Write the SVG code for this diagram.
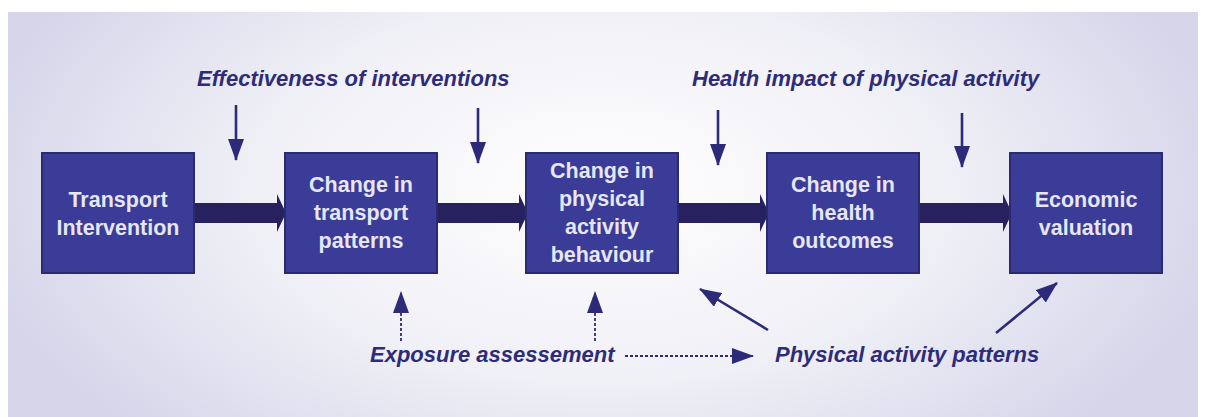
<svg xmlns="http://www.w3.org/2000/svg" width="1206" height="417" viewBox="0 0 1206 417">
  <defs>
    <radialGradient id="bg" cx="600" cy="190" r="640" gradientUnits="userSpaceOnUse" gradientTransform="translate(600 190) scale(1 0.55) translate(-600 -190)">
      <stop offset="0" stop-color="#ffffff"/>
      <stop offset="0.55" stop-color="#efeff6"/>
      <stop offset="1" stop-color="#d6d5ea"/>
    </radialGradient>
    <marker id="head" viewBox="0 0 22 16" refX="21" refY="8" markerWidth="22" markerHeight="16" markerUnits="userSpaceOnUse" orient="auto">
      <path d="M0,0 L22,8 L0,16 z" fill="#2e2a7a"/>
    </marker>
    <style>
      .box { fill: #3a3c98; stroke: #2a2a6e; stroke-width: 2; }
      .boxText { font-family: "Liberation Sans", Arial, sans-serif; font-weight: bold; font-size: 21.5px; fill: #e6e6f4; text-anchor: middle; }
      .label { font-family: "Liberation Sans", Arial, sans-serif; font-weight: bold; font-style: italic; font-size: 22px; fill: #2e2c78; }
      .flow { fill: #28215f; }
      .thin { stroke: #2e2a7a; stroke-width: 2.6; fill: none; marker-end: url(#head); }
      .dash { stroke: #2e2a7a; stroke-width: 1.8; fill: none; stroke-dasharray: 3 2; marker-end: url(#head); }
    </style>
  </defs>

  <!-- panel -->
  <rect x="0" y="0" width="1206" height="417" fill="#ffffff"/>
  <rect x="8" y="12" width="1190" height="405" fill="url(#bg)"/>

  <!-- connectors -->
  <g id="connectors">
    <!-- main flow arrows between boxes -->
    <path class="flow" d="M194,203 H277 V194 L286,213 L277,232 V223 H194 z"/>
    <path class="flow" d="M437,203 H519 V194 L528,213 L519,232 V223 H437 z"/>
    <path class="flow" d="M678,203 H760 V194 L769,213 L760,232 V223 H678 z"/>
    <path class="flow" d="M919,203 H1003 V194 L1012,213 L1003,232 V223 H919 z"/>

    <!-- measurement arrows from top labels -->
    <line class="thin" x1="236" y1="105" x2="236" y2="160"/>
    <line class="thin" x1="478" y1="108" x2="478" y2="163"/>
    <line class="thin" x1="718" y1="110" x2="718" y2="165"/>
    <line class="thin" x1="962" y1="113" x2="962" y2="167"/>

    <!-- exposure assessment arrows -->
    <line class="dash" x1="401" y1="341" x2="401" y2="292"/>
    <line class="dash" x1="595" y1="341" x2="595" y2="292"/>
    <line class="dash" x1="625" y1="356" x2="753" y2="356"/>

    <!-- physical activity pattern arrows -->
    <line class="thin" x1="768" y1="330" x2="700" y2="289"/>
    <line class="thin" x1="996" y1="333" x2="1057" y2="283"/>
  </g>

  <!-- nodes -->
  <g id="transport-intervention">
    <rect class="box" x="42" y="153" width="152" height="120"/>
    <text class="boxText" x="118" y="207">Transport</text>
    <text class="boxText" x="118" y="235">Intervention</text>
  </g>
  <g id="transport-patterns">
    <rect class="box" x="285" y="153" width="152" height="120"/>
    <text class="boxText" x="361" y="192">Change in</text>
    <text class="boxText" x="361" y="220">transport</text>
    <text class="boxText" x="361" y="248">patterns</text>
  </g>
  <g id="activity-behaviour">
    <rect class="box" x="526" y="153" width="152" height="120"/>
    <text class="boxText" x="602" y="178">Change in</text>
    <text class="boxText" x="602" y="206">physical</text>
    <text class="boxText" x="602" y="234">activity</text>
    <text class="boxText" x="602" y="262">behaviour</text>
  </g>
  <g id="health-outcomes">
    <rect class="box" x="767" y="153" width="152" height="120"/>
    <text class="boxText" x="843" y="192">Change in</text>
    <text class="boxText" x="843" y="220">health</text>
    <text class="boxText" x="843" y="248">outcomes</text>
  </g>
  <g id="economic-valuation">
    <rect class="box" x="1010" y="153" width="152" height="120"/>
    <text class="boxText" x="1086" y="207">Economic</text>
    <text class="boxText" x="1086" y="235">valuation</text>
  </g>

  <!-- annotations -->
  <g id="labels">
    <text class="label" x="197" y="86">Effectiveness of interventions</text>
    <text class="label" x="692" y="86">Health impact of physical activity</text>
    <text class="label" x="370" y="362">Exposure assessement</text>
    <text class="label" x="775" y="362">Physical activity patterns</text>
  </g>
</svg>
